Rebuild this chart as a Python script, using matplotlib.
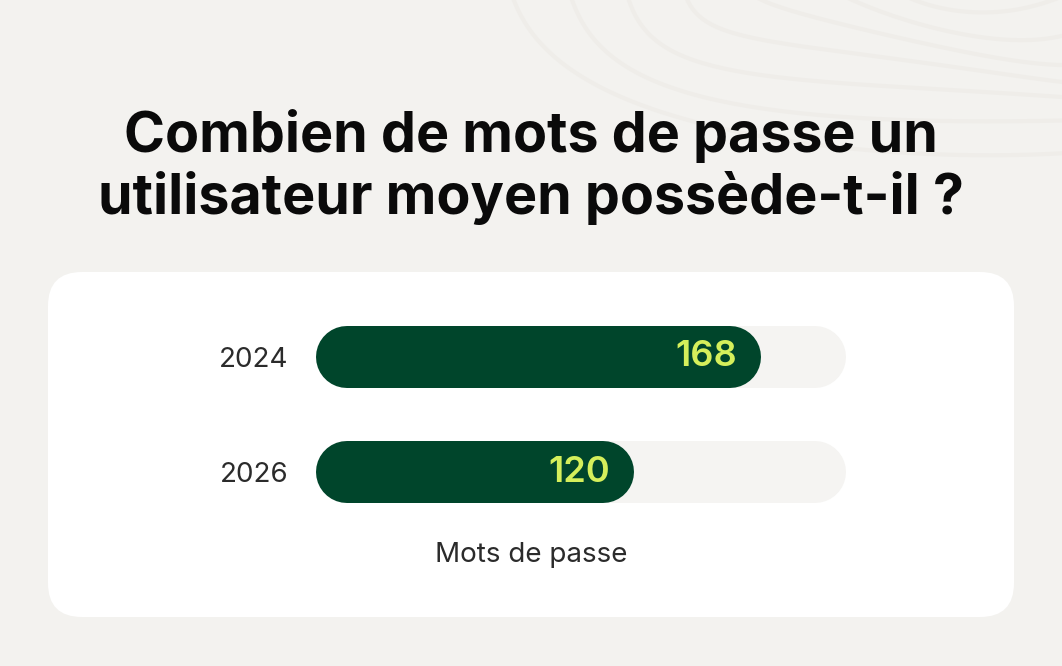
import numpy as np
import matplotlib.pyplot as plt
from matplotlib.patches import FancyBboxPatch

# data
years = ["2024", "2026"]
passwords = [168, 120]
track_max = 200

title = "Combien de mots de passe un\nutilisateur moyen possède-t-il ?"
xlabel = "Mots de passe"

W, H = 1062, 666
bg_col = "#f3f2ef"
card_col = "#ffffff"
track_col = "#f5f4f2"
bar_col = "#00452b"
val_col = "#d5ef5b"
txt_col = "#2b2b2b"

plt.rcParams['font.family'] = ['Inter', 'DejaVu Sans']

fig = plt.figure(figsize=(W / 100, H / 100), dpi=100, facecolor=bg_col)

# background layer in pixel units (decoration + card)
bgax = fig.add_axes([0, 0, 1, 1])
bgax.set_xlim(0, W)
bgax.set_ylim(H, 0)
bgax.axis('off')

# faint contour decoration, top right
t = np.linspace(0, np.pi, 200)
for k in range(7):
    r = 120 + k * 45
    xs = 1010 + r * 1.3 * np.cos(t + 0.15 * np.sin(3 * t))
    ys = -60 + r * 0.55 * np.sin(t) + 10 * np.sin(4 * t + k)
    bgax.plot(xs, ys, color="#eeece8", lw=3, alpha=0.8, zorder=0)

card = FancyBboxPatch((48, 272), 966, 345, boxstyle="round,pad=0,rounding_size=34",
                      fc=card_col, ec="none", zorder=1)
bgax.add_patch(card)

fig.text(0.5, 1 - 167 / H, title, ha='center', va='center', fontsize=40,
         fontweight='bold', color='#0a0a0a', linespacing=1.2)

# bar chart axes
x0, x1 = 316, 846
ytop, ybot = 299.5, 529.5
ax = fig.add_axes([x0 / W, 1 - ybot / H, (x1 - x0) / W, (ybot - ytop) / H])
ax.set_facecolor('none')
ax.set_xlim(0, track_max)
ax.set_ylim(len(years) - 0.5, -0.5)
for s in ax.spines.values():
    s.set_visible(False)
ax.set_xticks([])
ax.set_yticks(range(len(years)))
ax.set_yticklabels(years, fontsize=20, color=txt_col)
ax.tick_params(axis='y', length=0, pad=20)

bar_h_px = 62
lw_pt = bar_h_px * 72 / 100
r_data = (bar_h_px / 2) * track_max / (x1 - x0)

for i, v in enumerate(passwords):
    ax.plot([r_data, track_max - r_data], [i, i], color=track_col, lw=lw_pt,
            solid_capstyle='round', zorder=2)
    ax.plot([r_data, v - r_data], [i, i], color=bar_col, lw=lw_pt,
            solid_capstyle='round', zorder=3)
    ax.annotate(str(v), (v, i), xytext=(-17, 0), textcoords='offset points',
                ha='right', va='center', fontsize=26, fontweight='semibold',
                color=val_col, zorder=4)

ax.set_xlabel(xlabel, fontsize=20, color=txt_col)
ax.xaxis.label.set_va('center')
ax.xaxis.set_label_coords((531 - x0) / (x1 - x0), -(555 - ybot) / (ybot - ytop))

fig.savefig("out.png", dpi=100, facecolor=bg_col)
